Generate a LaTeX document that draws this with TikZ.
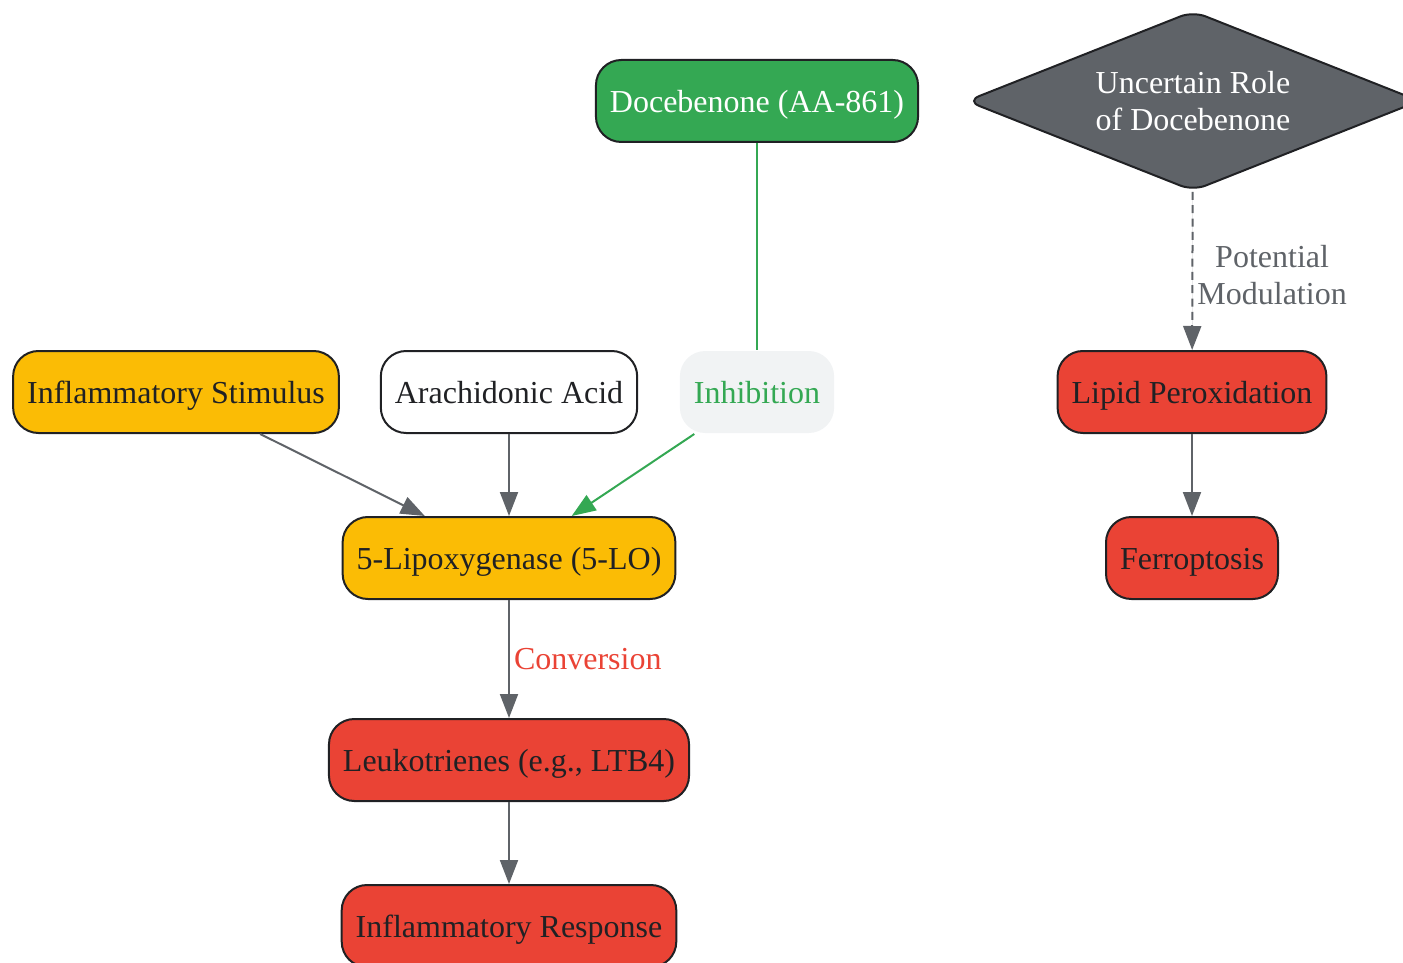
\documentclass[tikz,border=0pt]{standalone}
\usepackage{fontspec}
\setmainfont{Liberation Serif}
\usetikzlibrary{shapes}
\usetikzlibrary{arrows.meta}

\definecolor{ink}{HTML}{202124}
\definecolor{leafgreen}{HTML}{34A853}
\definecolor{amber}{HTML}{FBBC05}
\definecolor{alarm}{HTML}{EA4335}
\definecolor{slate}{HTML}{5F6368}
\definecolor{mist}{HTML}{F1F3F4}

\begin{document}
\begin{tikzpicture}[x=0.75pt,y=-0.75pt]
				\tikzstyle{box}=[rectangle, rounded corners=19pt, draw=ink, line width=1.5pt, text=ink, minimum height=61.5pt, inner xsep=10.5pt, text height=19pt, text depth=2pt, font=\fontsize{24}{28}\selectfont]
				\tikzstyle{stim}=[box, fill=amber]
				\tikzstyle{harm}=[box, fill=alarm]
				\tikzstyle{drug}=[box, fill=leafgreen, text=white]
				\tikzstyle{plain}=[box, fill=white]
				\tikzstyle{tag}=[box, draw=none, fill=mist, text=leafgreen]
				\tikzstyle{doubt}=[diamond, shape aspect=2.5, rounded corners=10pt, draw=ink, line width=1.5pt, fill=slate, text=white, minimum width=340pt, minimum height=135pt, inner sep=0pt, align=center, font=\fontsize{24}{28}\selectfont]
				\tikzstyle{flow}=[draw=slate, line width=1.5pt, -{Triangle[length=18pt,width=13.5pt]}]
				\tikzstyle{lbl}=[font=\fontsize{24}{28}\selectfont, inner sep=3pt]
				
				\useasboundingbox (0,0) rectangle (1403,963);
				
				% top row
				\node[drug] (doce) at (757,101) {Docebenone (AA-861)};
				\node[doubt] (doubt) at (1193,101) {Uncertain Role\\of Docebenone};
				
				% second row
				\node[stim] (stimulus) at (176,392) {Inflammatory Stimulus};
				\node[plain] (aa) at (509,392) {Arachidonic Acid};
				\node[tag] (inhib) at (757,392) {Inhibition};
				\node[harm] (lipid) at (1192,392) {Lipid Peroxidation};
				
				% lower rows
				\node[stim] (lox) at (509,558) {5-Lipoxygenase (5-LO)};
				\node[harm] (ferro) at (1192,558) {Ferroptosis};
				\node[harm] (ltb) at (509,760) {Leukotrienes (e.g., LTB4)};
				\node[harm] (response) at (509,926) {Inflammatory Response};
				
				\draw[draw=leafgreen, line width=1.5pt] (doce) -- (inhib);
				\draw[flow, draw=leafgreen, fill=leafgreen] (inhib) -- (lox);
				\draw[flow, fill=slate] (stimulus) -- (lox);
				\draw[flow, fill=slate] (aa) -- (lox);
				\draw[flow, fill=slate] (lox) -- node[lbl, right, text=alarm] {Conversion} (ltb);
				\draw[flow, fill=slate] (ltb) -- (response);
				\draw[flow, fill=slate, dash pattern=on 6pt off 4pt] (doubt) -- node[lbl, right, align=center, text=slate, yshift=-3pt] {Potential\\Modulation} (lipid);
				\draw[flow, fill=slate] (lipid) -- (ferro);
				
\end{tikzpicture}
\end{document}
